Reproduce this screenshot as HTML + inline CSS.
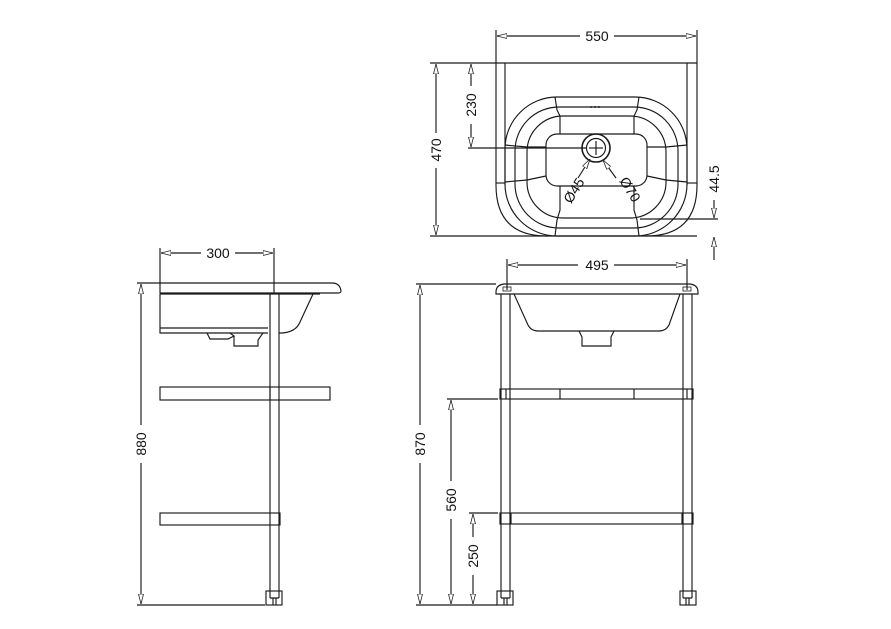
<!DOCTYPE html>
<html><head><meta charset="utf-8"><style>
html,body{margin:0;padding:0;background:#fff;}
svg{display:block;}
text{font-family:"Liberation Sans",sans-serif;font-size:14px;fill:#111;}
</style></head><body>
<svg width="891" height="629" viewBox="0 0 891 629" xmlns="http://www.w3.org/2000/svg">
<defs>
<marker id="a" viewBox="0 0 10 6" refX="10" refY="3" markerWidth="10" markerHeight="6" orient="auto-start-reverse" markerUnits="userSpaceOnUse">
<path d="M0,0.5 L10,3 L0,5.5 Z" fill="#fff" stroke="#222" stroke-width="0.8"/>
</marker>
</defs>
<g fill="none" stroke="#1a1a1a" stroke-width="1.15">
<!-- TOP VIEW -->
<line x1="496" y1="30" x2="496" y2="63"/><line x1="697" y1="30" x2="697" y2="63"/>
<line x1="497" y1="36" x2="580" y2="36" marker-start="url(#a)"/>
<line x1="614" y1="36" x2="696" y2="36" marker-end="url(#a)"/>
<line x1="430" y1="63" x2="697" y2="63"/>
<line x1="430" y1="236" x2="697" y2="236"/>
<path d="M496,63 V185 Q496,236 547,236"/>
<path d="M697,63 V185 Q697,236 646,236"/>
<line x1="505" y1="63" x2="505" y2="185"/><line x1="687" y1="63" x2="687" y2="185"/>
<line x1="496" y1="183" x2="505" y2="183"/><line x1="687" y1="183" x2="697" y2="183"/>
<rect x="505" y="97" width="182" height="139" rx="52"/>
<rect x="515" y="107" width="163" height="121" rx="44"/>
<rect x="527" y="116" width="139" height="102" rx="36"/>
<rect x="546" y="134" width="101" height="52" rx="11"/>
<path d="M555,97 L557,110 L560,116 V134 M639,97 L637,110 L634,116 V134"/>
<path d="M555,236 L557,220 L560,210 V186 M639,236 L637,220 L634,210 V186"/>
<path d="M505,145 L527,147 L546,147 M687,145 L666,147 L647,147 M505,182 L527,180 L546,176 M687,182 L666,180 L647,176"/>
<line x1="590" y1="107" x2="602" y2="107" stroke-dasharray="2,2" stroke-width="1.5"/>
<circle cx="596" cy="148" r="14" stroke-width="1.6"/>
<circle cx="596" cy="148" r="9.5"/>
<line x1="596" y1="141" x2="596" y2="155"/><line x1="589" y1="148" x2="603" y2="148"/>
<line x1="468" y1="148" x2="586" y2="148"/>
<line x1="578" y1="178" x2="590" y2="159" marker-end="url(#a)"/>
<line x1="616" y1="178" x2="603" y2="160" marker-end="url(#a)"/>
<line x1="436" y1="64" x2="436" y2="133" marker-start="url(#a)"/>
<line x1="436" y1="168" x2="436" y2="235" marker-end="url(#a)"/>
<line x1="471" y1="64" x2="471" y2="86" marker-start="url(#a)"/>
<line x1="471" y1="124" x2="471" y2="147" marker-end="url(#a)"/>
<line x1="640" y1="219" x2="718" y2="219"/>
<line x1="714" y1="200" x2="714" y2="218" marker-end="url(#a)"/>
<line x1="714" y1="260" x2="714" y2="237" marker-end="url(#a)"/>
<!-- SIDE VIEW -->
<line x1="160" y1="248" x2="160" y2="283"/><line x1="274" y1="248" x2="274" y2="293"/>
<line x1="161" y1="253" x2="201" y2="253" marker-start="url(#a)"/>
<line x1="235" y1="253" x2="273" y2="253" marker-end="url(#a)"/>
<path d="M160,283 H332 Q340,283 341,291 Q341,293 338,293 H160 Z"/>
<line x1="160" y1="294" x2="320" y2="294"/>
<path d="M160,294 V333 H268"/>
<path d="M160,328 H268"/>
<path d="M313,294 L300,322 Q296,332 282,333 H279"/>
<path d="M207,333 L210,339 H228 L234,336 L230,333 M234,336 V346 H258 V340 L263,333"/>
<line x1="270" y1="293" x2="270" y2="598"/><line x1="279" y1="293" x2="279" y2="598"/>
<rect x="160" y="387" width="170" height="13"/>
<line x1="270" y1="387" x2="270" y2="400"/>
<rect x="160" y="513" width="120" height="12"/>
<rect x="266" y="591" width="16" height="14"/>
<path d="M270,598 H279 M273,598 V605 M276,598 V605"/>
<line x1="137" y1="283" x2="160" y2="283"/>
<line x1="137" y1="605" x2="265" y2="605"/>
<line x1="141" y1="284" x2="141" y2="425" marker-start="url(#a)"/>
<line x1="141" y1="463" x2="141" y2="604" marker-end="url(#a)"/>
<!-- FRONT VIEW -->
<line x1="507" y1="259" x2="507" y2="290"/><line x1="687" y1="259" x2="687" y2="290"/>
<line x1="508" y1="265" x2="578" y2="265" marker-start="url(#a)"/>
<line x1="614" y1="265" x2="686" y2="265" marker-end="url(#a)"/>
<path d="M504,284 H690 Q698,285 698,292 V294 H496 V292 Q496,285 504,284 Z"/>
<rect x="503" y="287" width="8" height="4" stroke-width="0.8"/>
<rect x="683" y="287" width="8" height="4" stroke-width="0.8"/>
<path d="M514,294 L528,325 Q531,331 538,331 H659 Q666,331 669,325 L680,294"/>
<path d="M579,331 L582,337 V346 H611 V337 L614,331"/>
<line x1="501" y1="294" x2="501" y2="598"/><line x1="510" y1="294" x2="510" y2="598"/>
<line x1="683" y1="294" x2="683" y2="598"/><line x1="692" y1="294" x2="692" y2="598"/>
<rect x="500" y="389" width="193" height="10"/>
<line x1="506" y1="389" x2="506" y2="399"/><line x1="687" y1="389" x2="687" y2="399"/>
<line x1="560" y1="389" x2="560" y2="399"/><line x1="634" y1="389" x2="634" y2="399"/>
<rect x="500" y="513" width="193" height="11"/>
<line x1="511" y1="513" x2="511" y2="524"/><line x1="682" y1="513" x2="682" y2="524"/>
<rect x="497" y="591" width="16" height="14"/>
<path d="M501,598 H510 M504,598 V605 M507,598 V605"/>
<rect x="680" y="591" width="16" height="14"/>
<path d="M683,598 H692 M686,598 V605 M689,598 V605"/>
<line x1="416" y1="284" x2="496" y2="284"/>
<line x1="447" y1="399" x2="498" y2="399"/>
<line x1="469" y1="513" x2="498" y2="513"/>
<line x1="416" y1="605" x2="497" y2="605"/>
<line x1="420" y1="285" x2="420" y2="425" marker-start="url(#a)"/>
<line x1="420" y1="463" x2="420" y2="604" marker-end="url(#a)"/>
<line x1="451" y1="400" x2="451" y2="481" marker-start="url(#a)"/>
<line x1="451" y1="519" x2="451" y2="604" marker-end="url(#a)"/>
<line x1="473" y1="514" x2="473" y2="537" marker-start="url(#a)"/>
<line x1="473" y1="575" x2="473" y2="604" marker-end="url(#a)"/>
</g>
<g>
<text x="597" y="41" text-anchor="middle">550</text>
<text x="218" y="258" text-anchor="middle">300</text>
<text x="597" y="270" text-anchor="middle">495</text>
<text transform="translate(441,150) rotate(-90)" text-anchor="middle">470</text>
<text transform="translate(476,105) rotate(-90)" text-anchor="middle">230</text>
<text transform="translate(719,179) rotate(-90)" text-anchor="middle">44.5</text>
<text transform="translate(146,444) rotate(-90)" text-anchor="middle">880</text>
<text transform="translate(425,444) rotate(-90)" text-anchor="middle">870</text>
<text transform="translate(456,500) rotate(-90)" text-anchor="middle">560</text>
<text transform="translate(478,556) rotate(-90)" text-anchor="middle">250</text>
<text transform="translate(578,193) rotate(-58)" text-anchor="middle">Ø45</text>
<text transform="translate(626,192) rotate(58)" text-anchor="middle">Ø70</text>
</g>
</svg>
</body></html>
